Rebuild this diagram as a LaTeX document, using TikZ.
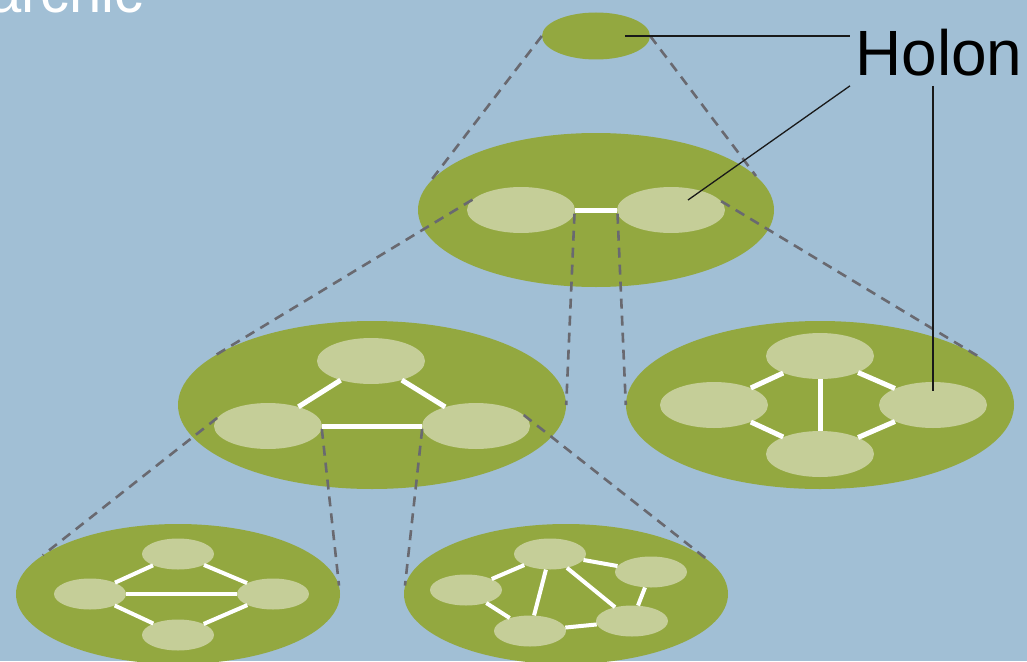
\documentclass[tikz,border=0pt]{standalone}
\usepackage{fontspec}
\setmainfont{Liberation Sans}
\usetikzlibrary{shapes.geometric,calc}
\definecolor{holonbg}{RGB}{161,191,213}
\definecolor{holongreen}{RGB}{147,168,64}
\definecolor{holonpale}{RGB}{197,206,152}
\definecolor{holongray}{RGB}{105,105,112}

\begin{document}
\begin{tikzpicture}[x=1pt,y=-1pt,
  whole/.style={ellipse,fill=holongreen,inner sep=0pt},
  part/.style={ellipse,fill=holonpale,inner sep=0pt,minimum width=108pt,minimum height=46pt},
  subpart/.style={part,minimum width=72pt,minimum height=31pt},
  link/.style={white,line width=5pt},
  sublink/.style={white,line width=4pt},
  nest/.style={holongray,line width=2.6pt,dash pattern=on 10pt off 7pt},
  lead/.style={black!90,line width=1.3pt}]

  \useasboundingbox (0,0) rectangle (1027,661);
  \clip (0,0) rectangle (1027,661);
  \fill[holonbg] (0,0) rectangle (1027,661);

  % the wholes, level by level
  \node[whole,minimum width=108pt,minimum height=47pt]  (top)   at (596,36)  {};
  \node[whole,minimum width=356pt,minimum height=154pt] (mid)   at (596,210) {};
  \node[whole,minimum width=388pt,minimum height=168pt] (left)  at (372,405) {};
  \node[whole,minimum width=388pt,minimum height=168pt] (right) at (820,405) {};
  \node[whole,minimum width=324pt,minimum height=140pt] (lowl)  at (178,594) {};
  \node[whole,minimum width=324pt,minimum height=140pt] (lowr)  at (566,594) {};

  % their parts
  \node[part] (mid-w) at (521,210) {};
  \node[part] (mid-e) at (671,210) {};

  \node[part] (left-n) at (371,361) {};
  \node[part] (left-w) at (268,426) {};
  \node[part] (left-e) at (476,426) {};

  \node[part] (right-n) at (820,356) {};
  \node[part] (right-w) at (714,405) {};
  \node[part] (right-e) at (933,405) {};
  \node[part] (right-s) at (820,454) {};

  \node[subpart] (lowl-n) at (178,554) {};
  \node[subpart] (lowl-w) at (90,594)  {};
  \node[subpart] (lowl-e) at (273,594) {};
  \node[subpart] (lowl-s) at (178,635) {};

  \node[subpart] (lowr-n)  at (550,554) {};
  \node[subpart] (lowr-ne) at (651,572) {};
  \node[subpart] (lowr-w)  at (466,590) {};
  \node[subpart] (lowr-sw) at (530,631) {};
  \node[subpart] (lowr-se) at (632,621) {};

  % dashed cones: each part opens into the whole below
  \draw[nest] (top.west) -- (mid.171);
  \draw[nest] (top.east) -- (mid.12);
  \draw[nest] (mid-w.168) -- (left.162);
  \draw[nest] (mid-w.-4)  -- (left.east);
  \draw[nest] (mid-e.184) -- (right.west);
  \draw[nest] (mid-e.10)  -- (right.16);
  \draw[nest] (left-w.171) -- (lowl.164);
  \draw[nest] (left-w.-3)  -- (lowl.3);
  \draw[nest] (left-e.183) -- (lowr.177);
  \draw[nest] (left-e.13)  -- (lowr.13);

  % links between parts
  \foreach \a/\b in {mid-w/mid-e, left-n/left-w, left-n/left-e, left-w/left-e,
      right-n/right-w, right-n/right-e, right-n/right-s, right-w/right-s, right-e/right-s}
    \draw[link] (\a) -- (\b);
  \foreach \a/\b in {lowl-n/lowl-w, lowl-n/lowl-e, lowl-w/lowl-e, lowl-w/lowl-s, lowl-e/lowl-s,
      lowr-n/lowr-w, lowr-n/lowr-ne, lowr-n/lowr-sw, lowr-n/lowr-se,
      lowr-w/lowr-sw, lowr-sw/lowr-se, lowr-ne/lowr-se}
    \draw[sublink] (\a) -- (\b);

  % labels
  \node[white,font=\fontsize{58}{60}\selectfont,anchor=base east,inner sep=0pt] (title) at (144,13) {archic};
  \node[black,font=\fontsize{64}{70}\selectfont,anchor=base west,inner xsep=5pt,inner ysep=10pt] (holon) at (850,75) {Holon};

  \coordinate (top-tip)   at (625,36);
  \coordinate (mid-tip)   at (688,200);
  \coordinate (right-tip) at (933,391);
  \draw[lead] (top-tip) -- (holon.west |- top-tip);
  \draw[lead] (holon.south west) -- (mid-tip);
  \draw[lead] (holon.south -| right-tip) -- (right-tip);
\end{tikzpicture}
\end{document}
